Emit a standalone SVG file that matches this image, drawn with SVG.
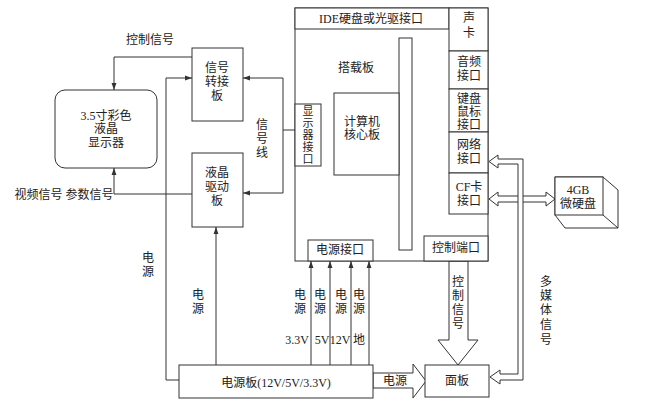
<svg xmlns="http://www.w3.org/2000/svg" width="661" height="405" viewBox="0 0 661 405">
<defs>
<style>
.b{fill:#fff;stroke:#333;stroke-width:1}
.n{fill:none;stroke:#333;stroke-width:1}
.h{fill:#fff;stroke:#333;stroke-width:1;stroke-linejoin:miter}
text{font-family:"Liberation Serif","Noto Sans CJK SC",serif;font-size:12px;fill:#222;text-anchor:middle;dominant-baseline:central}
.s{font-size:11px}
</style>
<marker id="a" viewBox="0 0 10 10" refX="10" refY="5" markerWidth="7" markerHeight="7" markerUnits="userSpaceOnUse" orient="auto">
<path d="M0,1.5 L10,5 L0,8.5 Z" fill="#333"/>
</marker>
</defs>
<rect width="661" height="405" fill="#fff"/>

<g id="connectors">
<path class="n" d="M192,57 H114 V90" marker-end="url(#a)"/>
<path class="n" d="M192,194 H114 V168" marker-end="url(#a)"/>
<path class="n" d="M295,130 H283"/>
<path class="n" d="M283,130 V78 H243" marker-end="url(#a)"/>
<path class="n" d="M283,130 V193 H243" marker-end="url(#a)"/>
<path class="n" d="M179,380 H166 V78 H192" marker-end="url(#a)"/>
<path class="n" d="M216,365 V227" marker-end="url(#a)"/>
<path class="n" d="M311,365 V261" marker-end="url(#a)"/>
<path class="n" d="M330,365 V261" marker-end="url(#a)"/>
<path class="n" d="M351,365 V261" marker-end="url(#a)"/>
<path class="n" d="M369,365 V261" marker-end="url(#a)"/>
<path class="n" d="M412,238 H424 M412,245 H424"/>
<polygon class="h" points="413,73 421,67 421,70 441,70 441,67 449,73 441,79 441,76 421,76 421,79"/>
<polygon class="h" points="413,157 421,151 421,154 441,154 441,151 449,157 441,163 441,160 421,160 421,163"/>
<polygon class="h" points="413,198 421,192 421,195 441,195 441,192 449,198 441,204 441,201 421,201 421,204"/>
<polygon class="h" points="489,199 498,192 498,196 546,196 546,192 555,199 546,206 546,202 498,202 498,206"/>
<polygon class="h" points="449,261 468,261 468,340 478,340 458,365 438,340 449,340"/>
<polygon class="h" points="373,373 413,373 413,364 426,381 413,398 413,388 373,388"/>
<path class="h" d="M489,161.5 L498,155 L498,159 L523,159 L523,380 L500,380 L500,384 L490,377 L500,370 L500,374 L518,374 L518,164 L498,164 L498,168 Z"/>
<text x="148" y="258">电</text><text x="148" y="272">源</text>
<text x="198" y="295">电</text><text x="198" y="309">源</text>
<text x="150" y="40">控制信号</text>
<text x="64" y="195">视频信号  参数信号</text>
<text x="262" y="125">信</text><text x="262" y="139">号</text><text x="262" y="153">线</text>
<text x="300" y="295">电</text><text x="300" y="309">源</text>
<text x="320" y="295">电</text><text x="320" y="309">源</text>
<text x="341" y="295">电</text><text x="341" y="309">源</text>
<text x="359" y="295">电</text><text x="359" y="309">源</text>
<text x="297" y="340">3.3V</text><text x="322" y="340">5V</text><text x="340" y="340">12V</text><text x="359" y="340">地</text>
<text x="458" y="282">控</text><text x="458" y="296">制</text><text x="458" y="310">信</text><text x="458" y="324">号</text>
<text x="395" y="381">电源</text>
<text x="546" y="282">多</text><text x="546" y="296">媒</text><text x="546" y="310">体</text><text x="546" y="325">信</text><text x="546" y="340">号</text>
</g>

<g id="lcd">
<rect class="b" x="55" y="90" width="102" height="78" rx="10"/>
<text x="106" y="116">3.5寸彩色</text>
<text x="106" y="129">液晶</text>
<text x="106" y="143">显示器</text>
</g>

<g id="signal-adapter">
<rect class="b" x="192" y="48" width="51" height="73"/>
<text x="217" y="68">信号</text>
<text x="217" y="82">转接</text>
<text x="217" y="96">板</text>
</g>

<g id="lcd-driver">
<rect class="b" x="192" y="153" width="51" height="74"/>
<text x="217" y="173">液晶</text>
<text x="217" y="187">驱动</text>
<text x="217" y="201">板</text>
</g>

<g id="main-board">
<rect class="b" x="295" y="8" width="193" height="253"/>
<text x="356" y="68">搭载板</text>
</g>

<g id="ide">
<rect class="b" x="295" y="8" width="154" height="21"/>
<text x="371" y="19">IDE硬盘或光驱接口</text>
</g>

<g id="sound-card">
<rect class="b" x="449" y="8" width="39" height="43"/>
<text x="469" y="18">声</text>
<text x="469" y="33">卡</text>
</g>

<g id="audio">
<rect class="b" x="449" y="51" width="39" height="38"/>
<text x="469" y="62">音频</text>
<text x="469" y="76">接口</text>
</g>

<g id="kbd">
<rect class="b" x="449" y="89" width="39" height="43"/>
<text x="469" y="99">键盘</text>
<text x="469" y="112">鼠标</text>
<text x="469" y="125">接口</text>
</g>

<g id="net">
<rect class="b" x="449" y="132" width="39" height="41"/>
<text x="469" y="145">网络</text>
<text x="469" y="159">接口</text>
</g>

<g id="cf">
<rect class="b" x="449" y="173" width="39" height="41"/>
<text x="469" y="187">CF卡</text>
<text x="469" y="201">接口</text>
</g>

<g id="bus">
<rect class="b" x="399" y="38" width="13" height="212"/>
</g>

<g id="core">
<rect class="b" x="334" y="93" width="65" height="82"/>
<text x="362" y="122">计算机</text>
<text x="362" y="135">核心板</text>
</g>

<g id="display-if">
<rect class="b" x="295" y="104" width="26" height="62"/>
<text class="s" x="308" y="110.5">显</text>
<text class="s" x="308" y="122.5">示</text>
<text class="s" x="308" y="134.5">器</text>
<text class="s" x="308" y="146.5">接</text>
<text class="s" x="308" y="158.5">口</text>
</g>

<g id="power-if">
<rect class="b" x="308" y="240" width="65" height="21"/>
<text x="340" y="250">电源接口</text>
</g>

<g id="ctrl-port">
<rect class="b" x="424" y="236" width="64" height="25"/>
<text x="456" y="248">控制端口</text>
</g>

<g id="disk">
<polygon class="b" points="555,177 603,177 618,190 618,228 565,228 555,215"/>
<rect class="b" x="555" y="177" width="48" height="38"/>
<path class="n" d="M603,215 L618,228"/>
<text x="578" y="190">4GB</text>
<text x="578" y="204">微硬盘</text>
</g>

<g id="power-board">
<rect class="b" x="179" y="365" width="194" height="33"/>
<text x="276" y="383">电源板(12V/5V/3.3V)</text>
</g>

<g id="panel">
<rect class="b" x="425" y="365" width="64" height="32"/>
<text x="457" y="381">面板</text>
</g>
</svg>
